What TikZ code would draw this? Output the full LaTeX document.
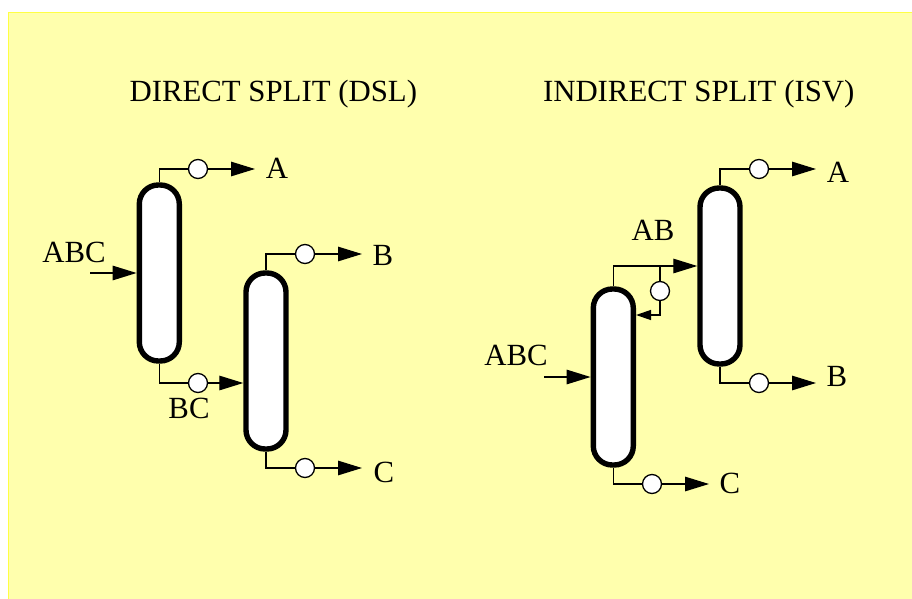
\documentclass[tikz,border=0pt]{standalone}
\usepackage{fontspec}
\setmainfont{Liberation Serif}
\usetikzlibrary{arrows.meta}
\definecolor{panel}{HTML}{FFFFAD}
\definecolor{panelline}{HTML}{FFFF44}
\tikzset{
  column/.style={draw=black,fill=white,line width=5.4pt,rounded corners=19pt,minimum width=40pt,minimum height=176pt,inner sep=0pt,outer sep=2.7pt},
  valve/.style={circle,draw=black,fill=white,line width=1.3pt,minimum size=19pt,inner sep=0pt,outer sep=0pt},
  pipe/.style={draw=black,line width=1.3pt},
  flow/.style={pipe,-{Triangle[length=24pt,width=14.5pt]}},
  smallflow/.style={pipe,-{Triangle[length=15pt,width=10pt]}},
  lbl/.style={font=\fontsize{30.8pt}{34pt}\selectfont,inner sep=0pt,text=black}
}
\begin{document}
\begin{tikzpicture}[x=1pt,y=-1pt]
\useasboundingbox (0,0) rectangle (912,599);
\fill[white] (0,0) rectangle (912,599);
\fill[panel] (8.5,12.5) rectangle (912,599);
\draw[panelline,line width=1.5pt] (8.5,599) -- (8.5,12.5) -- (912,12.5);

\node[lbl,anchor=base] (t1) at (273.3,101.5) {DIRECT SPLIT (DSL)};
\node[lbl,anchor=base] (t2) at (698.7,101.5) {INDIRECT SPLIT (ISV)};

% columns
\node[column] (c1) at (159.3,273) {};
\node[column] (c2) at (266,361) {};
\node[column] (c3) at (720,276) {};
\node[column] (c4) at (613.3,377) {};

% valves
\node[valve] (v1) at (198,169) {};
\node[valve] (v2) at (198,383) {};
\node[valve] (v3) at (305,254) {};
\node[valve] (v4) at (305,468) {};
\node[valve] (v5) at (759,169) {};
\node[valve] (v6) at (759,383) {};
\node[valve] (v7) at (660,291) {};
\node[valve] (v8) at (652,484) {};

% free ends
\coordinate (e1) at (255,169);
\coordinate (e3) at (362,254);
\coordinate (e4) at (362,468);
\coordinate (e5) at (816,169);
\coordinate (e6) at (816,383);
\coordinate (e8) at (709,484);
\coordinate (f1) at (90,273);
\coordinate (f2) at (544,377);
\coordinate (j) at (660,266);

% left process
\draw[pipe] (c1.north) |- (v1);
\draw[flow] (v1) -- (e1);
\draw[flow] (f1) -- (c1.west);
\draw[pipe] (c1.south) |- (v2);
\draw[flow] (v2) -- (c2.west |- v2);
\draw[pipe] (c2.north) |- (v3);
\draw[flow] (v3) -- (e3);
\draw[pipe] (c2.south) |- (v4);
\draw[flow] (v4) -- (e4);

% right process
\draw[pipe] (c3.north) |- (v5);
\draw[flow] (v5) -- (e5);
\draw[pipe] (c3.south) |- (v6);
\draw[flow] (v6) -- (e6);
\draw[flow] (c4.north) |- (c3.west |- j);
\draw[pipe] (j) -- (v7);
\draw[smallflow] (v7.south) |- (c4.east |- 0,315);
\draw[flow] (f2) -- (c4.west);
\draw[pipe] (c4.south) |- (v8);
\draw[flow] (v8) -- (e8);

% labels
\node[lbl] (la) at (277,168) {A};
\node[lbl] (lb) at (383,255) {B};
\node[lbl] (lc) at (384,472) {C};
\node[lbl] (labc) at (74,252) {ABC};
\node[lbl] (lbc) at (189,408) {BC};
\node[lbl] (ra) at (838,172) {A};
\node[lbl] (rb) at (837,376) {B};
\node[lbl] (rc) at (730,483) {C};
\node[lbl] (rab) at (653,230) {AB};
\node[lbl] (rabc) at (516,355) {ABC};
\end{tikzpicture}
\end{document}
